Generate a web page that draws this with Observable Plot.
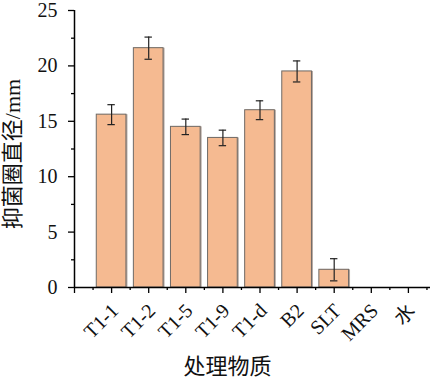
<!DOCTYPE html>
<html><head><meta charset="utf-8">
<script src="https://cdn.jsdelivr.net/npm/d3@7"></script>
<script src="https://cdn.jsdelivr.net/npm/@observablehq/plot@0.6"></script>
<style>body{margin:0;background:#fff}</style>
</head><body><div id="chart"></div>
<script>
const categories = ["T1-1","T1-2","T1-5","T1-9","T1-d","B2","SLT","MRS","水"];
const values = [15.6,21.6,14.5,13.5,16.0,19.5,1.6,0,0];
const errors = [0.9,1.0,0.7,0.7,0.85,0.95,1.0,0,0];
const yTicks = [0,5,10,15,20,25];
const yMinorTicks = [2.5,7.5,12.5,17.5,22.5];
const xDomain = [0,10];
const xMajorTicks = d3.range(0,11);
const xMinorTicks = d3.range(0.5,10,1);
const yLabel = "抑菌圈直径/mm";
const xLabel = "处理物质";

const data = categories.map((c,i)=>({name:c,pos:i+1,value:values[i],err:errors[i]}));
const errData = data.filter(d=>d.err>0);
const half = 0.4, cap = 0.1;
const serif = "'Liberation Serif','Times New Roman','Noto Sans CJK SC',serif";

const chart = Plot.plot({
  width:430, height:379,
  marginLeft:74, marginRight:50, marginTop:10, marginBottom:92,
  x:{domain:xDomain, range:[74,445]},
  y:{domain:[0,25], range:[287,10]},
  style:{fontFamily:serif, fontSize:"20px", color:"#111", background:"#fff", overflow:"hidden"},
  marks:[
    Plot.rectY(data,{x1:d=>d.pos-half,x2:d=>d.pos+half,y1:0,y2:"value",fill:"#b3a79f",dx:1.5}),
    Plot.rectY(data,{x1:d=>d.pos-half,x2:d=>d.pos+half,y1:0,y2:"value",fill:"#F5BA91",stroke:"#6f6a66",strokeWidth:1}),
    Plot.ruleX(errData,{x:"pos",y1:d=>d.value-d.err,y2:d=>d.value+d.err,stroke:"#222",strokeWidth:1.2}),
    Plot.ruleY(errData,{y:d=>d.value+d.err,x1:d=>d.pos-cap,x2:d=>d.pos+cap,stroke:"#222",strokeWidth:1.2}),
    Plot.ruleY(errData,{y:d=>d.value-d.err,x1:d=>d.pos-cap,x2:d=>d.pos+cap,stroke:"#222",strokeWidth:1.2}),
    Plot.ruleX([xDomain[0]],{y1:0,y2:25,stroke:"#000",strokeWidth:1.5}),
    Plot.ruleY([0],{x1:xDomain[0],x2:xDomain[1],stroke:"#000",strokeWidth:1.5}),
    Plot.axisY({ticks:yTicks,tickSize:6,tickPadding:11,strokeWidth:1.3,stroke:"#000",label:null,fontSize:20}),
    Plot.axisY({ticks:yMinorTicks,tickSize:3,fill:"none",strokeWidth:1.3,stroke:"#000",label:null}),
    Plot.axisX({ticks:xMajorTicks,tickSize:6,fill:"none",strokeWidth:1.3,stroke:"#000",label:null}),
    Plot.axisX({ticks:xMinorTicks,tickSize:3,fill:"none",strokeWidth:1.3,stroke:"#000",label:null}),
    Plot.text(data,{x:"pos",text:"name",frameAnchor:"bottom",lineAnchor:"bottom",rotate:-45,textAnchor:"end",dx:8,dy:24.5,fontSize:20,fill:"#111"}),
    Plot.text([xLabel],{text:d=>d,frameAnchor:"bottom",lineAnchor:"bottom",textAnchor:"middle",dy:86,fontSize:22,fill:"#111"}),
    Plot.text([yLabel],{text:d=>d,frameAnchor:"left",lineAnchor:"middle",textAnchor:"middle",rotate:-90,dx:-62,dy:5,fontSize:22,fill:"#111"})
  ]
});
document.getElementById("chart").appendChild(chart);
</script>
</body></html>
